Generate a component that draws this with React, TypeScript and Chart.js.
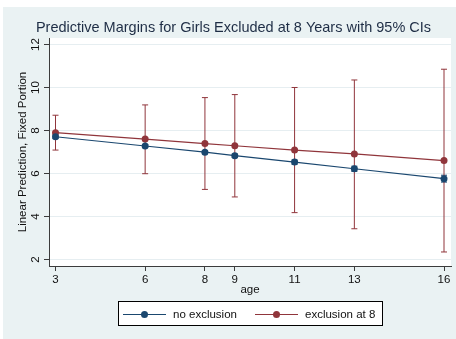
import { useEffect, useRef } from "react";
import { Chart, registerables } from "chart.js";

Chart.register(...registerables);

// ---- data ----
const ages = [3, 6, 8, 9, 11, 13, 16];
const noExclusion = [7.71, 7.28, 6.99, 6.83, 6.53, 6.22, 5.76];
const noExclusionLower = [7.63, 7.21, 6.92, 6.75, 6.43, 6.1, 5.6];
const noExclusionUpper = [7.79, 7.35, 7.06, 6.91, 6.63, 6.34, 5.92];
const exclusionAt8 = [7.9, 7.6, 7.39, 7.29, 7.09, 6.91, 6.6];
const exclusionAt8Lower = [7.09, 5.99, 5.26, 4.91, 4.18, 3.43, 2.35];
const exclusionAt8Upper = [8.71, 9.19, 9.53, 9.67, 10.0, 10.35, 10.85];
const xTickValues = [3, 6, 8, 9, 11, 13, 16];
const yTickValues = [2, 4, 6, 8, 10, 12];
const seriesLabels = ["no exclusion", "exclusion at 8"];
const seriesColors = ["#1a476f", "#90353b"];
const titleText = "Predictive Margins for Girls Excluded at 8 Years with 95% CIs";
const xTitle = "age";
const yTitle = "Linear Prediction, Fixed Portion";

const FONT = "'Liberation Sans', Arial, Helvetica, sans-serif";
const lowers = [noExclusionLower, exclusionAt8Lower];
const uppers = [noExclusionUpper, exclusionAt8Upper];

const plotBg = {
  id: "plotBg",
  beforeDraw(chart: any) {
    const { ctx, chartArea: a } = chart;
    ctx.save();
    ctx.fillStyle = "#ffffff";
    ctx.fillRect(a.left, a.top, a.right - a.left, a.bottom - a.top);
    ctx.restore();
  },
};

const errorBars = {
  id: "errorBars",
  beforeDatasetsDraw(chart: any) {
    const { ctx } = chart;
    const xs = chart.scales.x;
    const ys = chart.scales.y;
    ctx.save();
    chart.data.datasets.forEach((ds: any, i: number) => {
      ctx.strokeStyle = ds.borderColor;
      ctx.lineWidth = 1;
      ds.data.forEach((pt: any, j: number) => {
        const px = xs.getPixelForValue(pt.x);
        const lo = ys.getPixelForValue(lowers[i][j]);
        const hi = ys.getPixelForValue(uppers[i][j]);
        ctx.beginPath();
        ctx.moveTo(px, lo);
        ctx.lineTo(px, hi);
        ctx.moveTo(px - 3, lo);
        ctx.lineTo(px + 3, lo);
        ctx.moveTo(px - 3, hi);
        ctx.lineTo(px + 3, hi);
        ctx.stroke();
      });
    });
    ctx.restore();
  },
};

const decor = {
  id: "decor",
  afterDraw(chart: any) {
    const { ctx } = chart;
    ctx.save();
    // title
    ctx.font = `14.5px ${FONT}`;
    ctx.fillStyle = "#1e2d45";
    ctx.textAlign = "center";
    ctx.textBaseline = "middle";
    ctx.fillText(titleText, 230.5, 21);
    // legend
    const bx = 115.5, by = 294.5, bw = 264, bh = 24;
    ctx.fillStyle = "#ffffff";
    ctx.fillRect(bx, by, bw, bh);
    ctx.strokeStyle = "#000000";
    ctx.lineWidth = 1;
    ctx.strokeRect(bx, by, bw, bh);
    const starts = [120, 252];
    const cy = 307.5;
    chart.data.datasets.forEach((ds: any, i: number) => {
      const sx = starts[i];
      ctx.strokeStyle = ds.borderColor;
      ctx.lineWidth = 1.2;
      ctx.beginPath();
      ctx.moveTo(sx, cy);
      ctx.lineTo(sx + 43, cy);
      ctx.stroke();
      ctx.fillStyle = ds.borderColor;
      ctx.beginPath();
      ctx.arc(sx + 21.5, cy, 3.5, 0, Math.PI * 2);
      ctx.fill();
      ctx.fillStyle = "#111111";
      ctx.font = `11.5px ${FONT}`;
      ctx.textAlign = "left";
      ctx.textBaseline = "middle";
      ctx.fillText(ds.label, sx + 50, cy);
    });
    ctx.restore();
  },
};

export default function App() {
  const ref = useRef<HTMLCanvasElement | null>(null);
  useEffect(() => {
    if (!ref.current) return;
    const datasets = [noExclusion, exclusionAt8].map((vals, i) => ({
      label: seriesLabels[i],
      data: ages.map((a, j) => ({ x: a, y: vals[j] })),
      borderColor: seriesColors[i],
      backgroundColor: seriesColors[i],
      pointBackgroundColor: seriesColors[i],
      pointBorderWidth: 0,
      pointRadius: 3.5,
      borderWidth: 1.2,
      tension: 0,
    }));
    const chart = new Chart(ref.current, {
      type: "line",
      data: { datasets },
      plugins: [plotBg, errorBars, decor],
      options: {
        animation: false,
        responsive: false,
        layout: { padding: { top: 31, bottom: 42, left: 0, right: 5 } },
        plugins: { legend: { display: false }, title: { display: false }, tooltip: { enabled: false } },
        scales: {
          x: {
            type: "linear",
            min: 2.7825,
            max: 16.234,
            afterBuildTicks: (s: any) => {
              s.ticks = xTickValues.map((v) => ({ value: v }));
            },
            afterFit: (s: any) => {
              s.height = 31;
            },
            grid: { color: "rgba(0,0,0,0)", tickColor: "#3c3c3c", tickLength: 5, drawTicks: true },
            border: { display: true, color: "#3c3c3c", width: 1 },
            ticks: {
              autoSkip: false,
              maxRotation: 0,
              padding: 2,
              color: "#111111",
              font: { family: FONT, size: 11.5 },
            },
            title: {
              display: true,
              text: xTitle,
              color: "#111111",
              font: { family: FONT, size: 11.5 },
              padding: { top: 0, bottom: 0 },
            },
          },
          y: {
            type: "linear",
            min: 1.698,
            max: 12.302,
            afterBuildTicks: (s: any) => {
              s.ticks = yTickValues.map((v) => ({ value: v }));
            },
            afterFit: (s: any) => {
              s.width = 46;
            },
            grid: { color: "#e6eef1", tickColor: "#3c3c3c", tickLength: 5, drawTicks: true },
            border: { display: true, color: "#3c3c3c", width: 1 },
            ticks: {
              minRotation: 90,
              maxRotation: 90,
              crossAlign: "center",
              padding: 2,
              color: "#111111",
              font: { family: FONT, size: 11.5 },
            },
            title: {
              display: true,
              text: yTitle,
              color: "#111111",
              font: { family: FONT, size: 11.5 },
              padding: { top: 13, bottom: 0 },
            },
          },
        },
      } as any,
    });
    return () => chart.destroy();
  }, []);
  return (
    <div
      style={{
        position: "absolute",
        left: 3,
        top: 7,
        width: 453,
        height: 332,
        background: "#eaf2f3",
      }}
    >
      <canvas ref={ref} width={453} height={332} style={{ display: "block", width: 453, height: 332 }} />
    </div>
  );
}
